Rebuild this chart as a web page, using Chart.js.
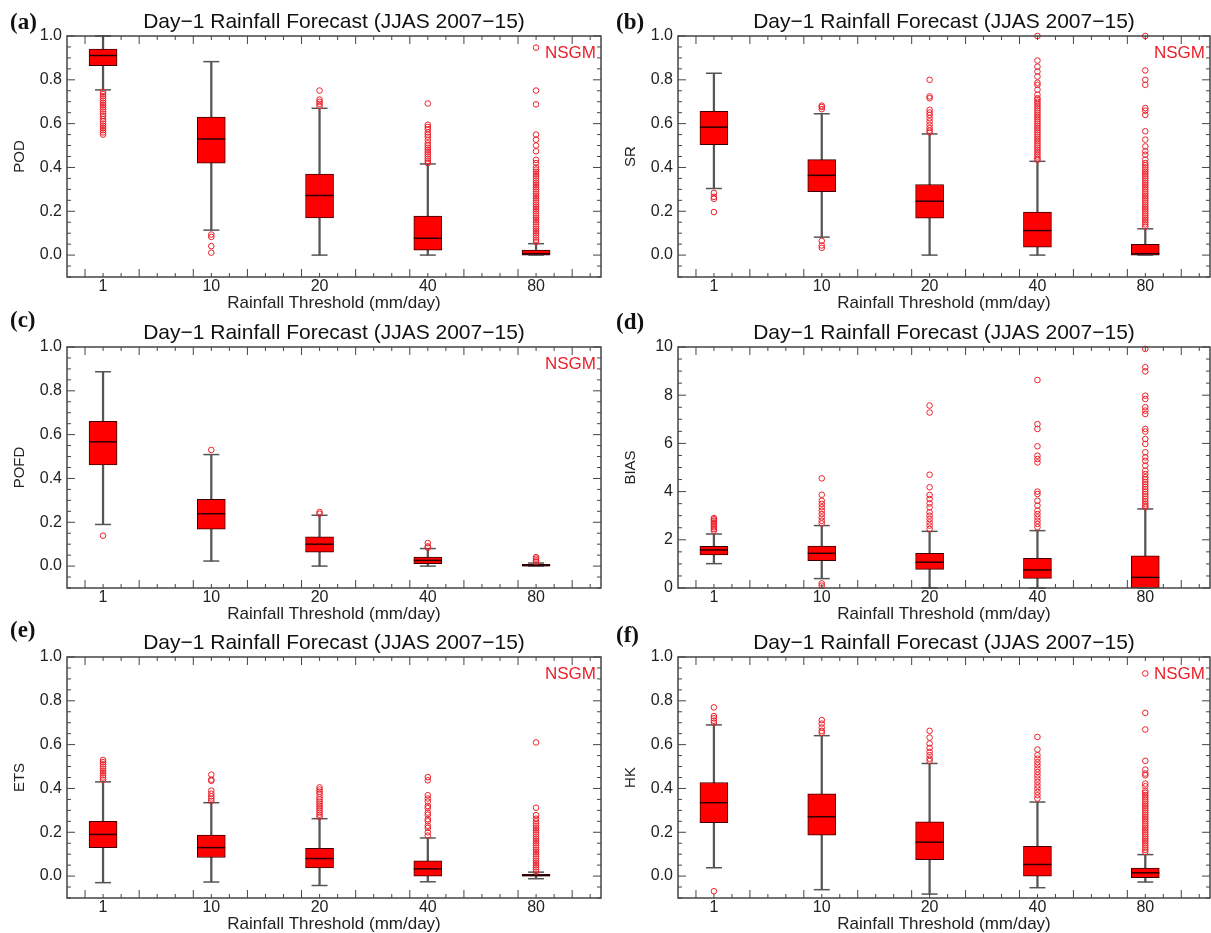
<!DOCTYPE html>
<html lang="en">
<head>
<meta charset="UTF-8">
<title>Day-1 Rainfall Forecast (JJAS 2007-15)</title>
<script src="https://cdn.jsdelivr.net/npm/chart.js@4"></script>
<style>
  html, body { margin: 0; padding: 0; background: #fff; overflow: hidden; }
  .panel { position: absolute; height: 312px; }
  .colA { left: 0; width: 605px; }
  .colB { left: 611px; width: 600px; }
</style>
</head>
<body>
<div class="panel colA" style="top:0"><canvas id="pod"></canvas></div>
<div class="panel colB" style="top:0"><canvas id="sr"></canvas></div>
<div class="panel colA" style="top:311px"><canvas id="pofd"></canvas></div>
<div class="panel colB" style="top:311px"><canvas id="bias"></canvas></div>
<div class="panel colA" style="top:621px"><canvas id="ets"></canvas></div>
<div class="panel colB" style="top:621px"><canvas id="hk"></canvas></div>

<script>
// rainfall thresholds (mm/day), one box per threshold
const thresholds = ['1', '10', '20', '40', '80'];

// (a) POD
const podQ1  = [0.865, 0.42, 0.17, 0.023, 0.0];
const podMed = [0.911, 0.53, 0.272, 0.077, 0.006];
const podQ3  = [0.94, 0.63, 0.37, 0.178, 0.023];
const podLo  = [0.754, 0.114, 0.0, 0.0, 0.0];
const podHi  = [1.0, 0.883, 0.67, 0.416, 0.052];
const podOut = [
  [0.745, 0.735, 0.725, 0.715, 0.705, 0.695, 0.685, 0.675, 0.665, 0.655, 0.645, 0.635, 0.62, 0.61, 0.6, 0.59, 0.58, 0.57, 0.56, 0.55],
  [0.094, 0.083, 0.041, 0.011],
  [0.751, 0.71, 0.7, 0.69, 0.68],
  [0.692, 0.595, 0.585, 0.575, 0.56, 0.55, 0.54, 0.525, 0.51, 0.5, 0.49, 0.48, 0.47, 0.46, 0.45, 0.44, 0.43, 0.42],
  [0.947, 0.751, 0.688, 0.55, 0.527, 0.5, 0.474, 0.435, 0.42, 0.4, 0.39, 0.38, 0.37, 0.36, 0.35, 0.34, 0.33, 0.32, 0.31, 0.3,
   0.29, 0.28, 0.27, 0.26, 0.25, 0.24, 0.23, 0.22, 0.21, 0.2, 0.19, 0.18, 0.17, 0.16, 0.15, 0.14, 0.13, 0.12, 0.11, 0.1,
   0.09, 0.08, 0.07, 0.06]
];

// (b) SR
const srQ1  = [0.504, 0.29, 0.168, 0.036, 0.0];
const srMed = [0.584, 0.364, 0.246, 0.112, 0.006];
const srQ3  = [0.656, 0.436, 0.322, 0.196, 0.049];
const srLo  = [0.304, 0.082, 0.0, 0.0, 0.0];
const srHi  = [0.83, 0.645, 0.553, 0.428, 0.12];
const srOut = [
  [0.284, 0.266, 0.257, 0.196],
  [0.682, 0.676, 0.666, 0.065, 0.044, 0.033],
  [0.8, 0.724, 0.716, 0.663, 0.651, 0.64, 0.625, 0.61, 0.595, 0.58, 0.568, 0.56],
  [1.0, 0.888, 0.86, 0.838, 0.815, 0.787, 0.777, 0.755, 0.732, 0.716, 0.71, 0.7, 0.69, 0.68, 0.67, 0.66, 0.65, 0.64, 0.63,
   0.62, 0.61, 0.6, 0.59, 0.58, 0.57, 0.56, 0.55, 0.54, 0.53, 0.52, 0.51, 0.5, 0.49, 0.48, 0.47, 0.46, 0.45, 0.44, 0.435],
  [1.0, 0.843, 0.8, 0.777, 0.671, 0.659, 0.64, 0.565, 0.527, 0.496, 0.474, 0.458, 0.436, 0.42, 0.41, 0.4, 0.39, 0.38, 0.37,
   0.36, 0.35, 0.34, 0.33, 0.32, 0.31, 0.3, 0.29, 0.28, 0.27, 0.26, 0.25, 0.24, 0.23, 0.22, 0.21, 0.2, 0.19, 0.18, 0.17,
   0.16, 0.15, 0.14, 0.13]
];

// (c) POFD
const pofdQ1  = [0.462, 0.168, 0.064, 0.011, 0.0];
const pofdMed = [0.567, 0.239, 0.1, 0.026, 0.003];
const pofdQ3  = [0.661, 0.305, 0.133, 0.041, 0.008];
const pofdLo  = [0.19, 0.023, 0.0, 0.0, 0.0];
const pofdHi  = [0.887, 0.509, 0.232, 0.08, 0.014];
const pofdOut = [[0.139], [0.53], [0.247, 0.239], [0.105, 0.09, 0.084], [0.041, 0.034, 0.026, 0.02]];

// (d) BIAS
const biasQ1  = [1.37, 1.13, 0.77, 0.4, 0.0];
const biasMed = [1.58, 1.44, 1.07, 0.75, 0.44];
const biasQ3  = [1.73, 1.74, 1.44, 1.23, 1.33];
const biasLo  = [1.01, 0.39, 0.0, 0.0, 0.0];
const biasHi  = [2.24, 2.59, 2.35, 2.38, 3.28];
const biasOut = [
  [2.38, 2.45, 2.52, 2.6, 2.66, 2.72, 2.79, 2.85, 2.9],
  [4.55, 3.87, 3.62, 3.49, 3.35, 3.21, 3.07, 2.93, 2.79, 2.68, 0.19, 0.1],
  [7.57, 7.28, 4.7, 4.18, 3.86, 3.69, 3.51, 3.35, 3.14, 3.0, 2.86, 2.72, 2.59, 2.45],
  [8.63, 6.8, 6.6, 5.88, 5.49, 5.35, 5.21, 4.0, 3.9, 3.62, 3.42, 3.21, 3.07, 2.93, 2.79, 2.66, 2.52],
  [9.92, 9.16, 8.99, 7.98, 7.84, 7.5, 7.36, 7.22, 6.6, 6.49, 6.18, 5.98, 5.63, 5.42, 5.28, 5.08, 4.87, 4.73,
   4.6, 4.5, 4.4, 4.3, 4.2, 4.1, 4.0, 3.9, 3.8, 3.7, 3.6, 3.5, 3.42, 3.35]
];

// (e) ETS
const etsQ1  = [0.13, 0.085, 0.037, 0.0, 0.0];
const etsMed = [0.19, 0.13, 0.08, 0.033, 0.003];
const etsQ3  = [0.25, 0.187, 0.127, 0.07, 0.008];
const etsLo  = [-0.03, -0.027, -0.043, -0.026, -0.012];
const etsHi  = [0.43, 0.335, 0.262, 0.174, 0.018];
const etsOut = [
  [0.53, 0.52, 0.51, 0.5, 0.49, 0.48, 0.47, 0.46, 0.45, 0.44],
  [0.463, 0.44, 0.435, 0.39, 0.376, 0.364, 0.354, 0.343],
  [0.405, 0.395, 0.385, 0.375, 0.36, 0.35, 0.34, 0.33, 0.32, 0.31, 0.3, 0.29, 0.28, 0.27],
  [0.452, 0.437, 0.369, 0.354, 0.34, 0.32, 0.31, 0.29, 0.28, 0.26, 0.25, 0.23, 0.22, 0.2, 0.185],
  [0.61, 0.312, 0.278, 0.262, 0.25, 0.24, 0.23, 0.22, 0.21, 0.2, 0.19, 0.18, 0.17, 0.16, 0.15, 0.14, 0.13, 0.12,
   0.11, 0.1, 0.09, 0.08, 0.07, 0.06, 0.05, 0.04, 0.03, 0.02]
];

// (f) HK
const hkQ1  = [0.244, 0.187, 0.075, 0.0, -0.007];
const hkMed = [0.335, 0.271, 0.155, 0.053, 0.015];
const hkQ3  = [0.427, 0.375, 0.248, 0.136, 0.037];
const hkLo  = [0.038, -0.062, -0.082, -0.053, -0.027];
const hkHi  = [0.69, 0.641, 0.514, 0.338, 0.098];
const hkOut = [
  [0.77, 0.73, 0.72, 0.709, 0.7, -0.069],
  [0.712, 0.696, 0.678, 0.663, 0.654],
  [0.663, 0.632, 0.605, 0.585, 0.567, 0.552, 0.536, 0.526],
  [0.635, 0.578, 0.552, 0.536, 0.52, 0.506, 0.49, 0.475, 0.46, 0.445, 0.43, 0.414, 0.4, 0.384, 0.369, 0.354],
  [0.925, 0.745, 0.669, 0.526, 0.486, 0.468, 0.46, 0.422, 0.41, 0.39, 0.38, 0.37, 0.36, 0.35, 0.34, 0.33, 0.32,
   0.31, 0.3, 0.29, 0.28, 0.27, 0.26, 0.25, 0.24, 0.23, 0.22, 0.21, 0.2, 0.19, 0.18, 0.17, 0.16, 0.15, 0.14, 0.13, 0.12, 0.11]
];

// y tick labels
const unitTicks = [0, 0.2, 0.4, 0.6, 0.8, 1.0];
const biasTicks = [0, 2, 4, 6, 8, 10];

const FONT = 'Liberation Sans, Arial, sans-serif';
const RED = 'rgb(236, 32, 42)';

// box frame with inward ticks on all four sides (IDL look)
const frameTicks = {
  id: 'frameTicks',
  afterDatasetsDraw(chart, args, o) {
    const { ctx, chartArea: a, scales: { x, y } } = chart;
    ctx.save();
    ctx.strokeStyle = '#444';
    ctx.lineWidth = 1;
    ctx.beginPath();
    const first = Math.ceil(y.min / o.yMinor - 1e-6);
    for (let k = first; k * o.yMinor <= y.max + 1e-9; k++) {
      const v = k * o.yMinor;
      const py = y.getPixelForValue(v);
      const r = v / o.yMajor;
      const len = Math.abs(r - Math.round(r)) < 1e-6 ? 8 : 4;
      ctx.moveTo(a.left, py); ctx.lineTo(a.left + len, py);
      ctx.moveTo(a.right, py); ctx.lineTo(a.right - len, py);
    }
    for (let k = 1; x.min + k / 6 < x.max - 0.01; k++) {
      const px = x.getPixelForValue(x.min + k / 6);
      const len = k % 3 === 1 ? 8 : 4;
      ctx.moveTo(px, a.bottom); ctx.lineTo(px, a.bottom - len);
      ctx.moveTo(px, a.top); ctx.lineTo(px, a.top + len);
    }
    ctx.stroke();
    ctx.lineWidth = 1.5;
    ctx.strokeRect(a.left, a.top, a.right - a.left, a.bottom - a.top);
    ctx.restore();
  }
};

// title, panel letter and model name
const panelText = {
  id: 'panelText',
  afterDraw(chart, args, o) {
    const { ctx, chartArea: a } = chart;
    ctx.save();
    ctx.textBaseline = 'middle';
    ctx.fillStyle = '#111';
    ctx.font = '21px ' + FONT;
    ctx.textAlign = 'center';
    ctx.fillText('Day\u22121 Rainfall Forecast (JJAS 2007\u221215)', (a.left + a.right) / 2, a.top - 13.5);
    ctx.font = 'bold 23px "Liberation Serif", "Times New Roman", serif';
    ctx.textAlign = 'left';
    ctx.fillText(o.letter, o.letterX, a.top - o.letterDy);
    if (o.note) {
      ctx.fillStyle = RED;
      ctx.font = '17px ' + FONT;
      ctx.textAlign = 'right';
      ctx.fillText(o.note, a.right - 5, a.top + 17);
    }
    ctx.restore();
  }
};

function boxChart(id, p) {
  const idx = thresholds.map((t, i) => i);
  const datasets = [
    { // whiskers
      type: 'bar', grouped: false, order: 4,
      data: idx.map(i => ({ x: i, y: [p.lo[i], p.hi[i]] })),
      backgroundColor: '#555', borderWidth: 0,
      maxBarThickness: 1.6, barPercentage: 1, categoryPercentage: 1
    },
    { // boxes
      type: 'bar', grouped: false, order: 3,
      data: idx.map(i => ({ x: i, y: [p.q1[i], p.q3[i]] })),
      backgroundColor: '#ff0000', borderColor: '#3c0000', borderWidth: 1, borderSkipped: false,
      maxBarThickness: 28, barPercentage: 1, categoryPercentage: 1
    },
    { // medians
      type: 'scatter', order: 2,
      data: idx.map(i => ({ x: i, y: p.med[i] })),
      pointStyle: 'line', pointRadius: 14, pointBorderColor: '#2a0000', borderColor: '#2a0000', pointBorderWidth: 1.5
    },
    { // whisker caps
      type: 'scatter', order: 2, clip: false,
      data: idx.flatMap(i => [{ x: i, y: p.lo[i] }, { x: i, y: p.hi[i] }]),
      pointStyle: 'line', pointRadius: 8, pointBorderColor: '#555', borderColor: '#555', pointBorderWidth: 1.5
    },
    { // outliers
      type: 'scatter', order: 1, clip: false,
      data: idx.flatMap(i => p.out[i].map(v => ({ x: i, y: v }))),
      pointStyle: 'circle', pointRadius: 2.8, pointBorderWidth: 1,
      pointBorderColor: RED, borderColor: RED,
      pointBackgroundColor: 'rgba(255,255,255,0)', backgroundColor: 'rgba(255,255,255,0)'
    }
  ];

  new Chart(document.getElementById(id), {
    type: 'bar',
    data: { datasets },
    plugins: [frameTicks, panelText],
    options: {
      responsive: true,
      maintainAspectRatio: false,
      animation: false,
      events: [],
      layout: { autoPadding: false, padding: { top: 36, right: p.padRight, left: 0, bottom: 0 } },
      plugins: {
        legend: { display: false },
        tooltip: { enabled: false },
        frameTicks: { yMinor: p.yMinor, yMajor: p.yMajor },
        panelText: { letter: p.letter, letterX: p.letterX, letterDy: p.letterDy, note: p.note }
      },
      scales: {
        x: {
          type: 'linear', min: -0.333, max: 4.6, offset: false,
          afterBuildTicks: s => { s.ticks = idx.map(v => ({ value: v })); },
          afterFit: s => { s.height = 35; s.paddingLeft = 0; s.paddingRight = 0; },
          grid: { display: false, drawTicks: false, offset: false },
          border: { display: false },
          ticks: { padding: 0, color: '#222', font: { family: FONT, size: 16 }, maxRotation: 0,
                   callback: v => thresholds[v] },
          title: { display: true, text: 'Rainfall Threshold (mm/day)', color: '#222',
                   font: { family: FONT, size: 17, lineHeight: 1 }, padding: { top: 0, bottom: 0 } }
        },
        y: {
          min: p.yMin, max: p.yMax,
          afterBuildTicks: s => { s.ticks = p.yTicks.map(v => ({ value: v })); },
          afterFit: s => { s.width = 67; s.paddingTop = 0; s.paddingBottom = 0; },
          grid: { display: false, drawTicks: false },
          border: { display: false },
          ticks: { padding: 5, color: '#222', font: { family: FONT, size: 16 },
                   callback: v => v.toFixed(p.dec) },
          title: { display: true, text: p.name, color: '#222',
                   font: { family: FONT, size: 15, lineHeight: 1 }, padding: { top: 12, bottom: 0 } }
        }
      }
    }
  });
}

const unitAxis = { yMin: -0.1, yMax: 1.0, yTicks: unitTicks, yMinor: 0.05, yMajor: 0.2, dec: 1 };
const colA = { padRight: 4, letterX: 10 };
const colB = { padRight: 1, letterX: 5 };

boxChart('pod', Object.assign({ name: 'POD', q1: podQ1, med: podMed, q3: podQ3, lo: podLo, hi: podHi, out: podOut,
  letter: '(a)', letterDy: 13, note: 'NSGM' }, unitAxis, colA));
boxChart('sr', Object.assign({ name: 'SR', q1: srQ1, med: srMed, q3: srQ3, lo: srLo, hi: srHi, out: srOut,
  letter: '(b)', letterDy: 13, note: 'NSGM' }, unitAxis, colB));
boxChart('pofd', Object.assign({ name: 'POFD', q1: pofdQ1, med: pofdMed, q3: pofdQ3, lo: pofdLo, hi: pofdHi, out: pofdOut,
  letter: '(c)', letterDy: 26, note: 'NSGM' }, unitAxis, colA));
boxChart('bias', Object.assign({ name: 'BIAS', q1: biasQ1, med: biasMed, q3: biasQ3, lo: biasLo, hi: biasHi, out: biasOut,
  letter: '(d)', letterDy: 24, note: '' },
  { yMin: 0, yMax: 10, yTicks: biasTicks, yMinor: 0.5, yMajor: 2, dec: 0 }, colB));
boxChart('ets', Object.assign({ name: 'ETS', q1: etsQ1, med: etsMed, q3: etsQ3, lo: etsLo, hi: etsHi, out: etsOut,
  letter: '(e)', letterDy: 26, note: 'NSGM' }, unitAxis, colA));
boxChart('hk', Object.assign({ name: 'HK', q1: hkQ1, med: hkMed, q3: hkQ3, lo: hkLo, hi: hkHi, out: hkOut,
  letter: '(f)', letterDy: 21, note: 'NSGM' }, unitAxis, colB));
</script>
</body>
</html>
